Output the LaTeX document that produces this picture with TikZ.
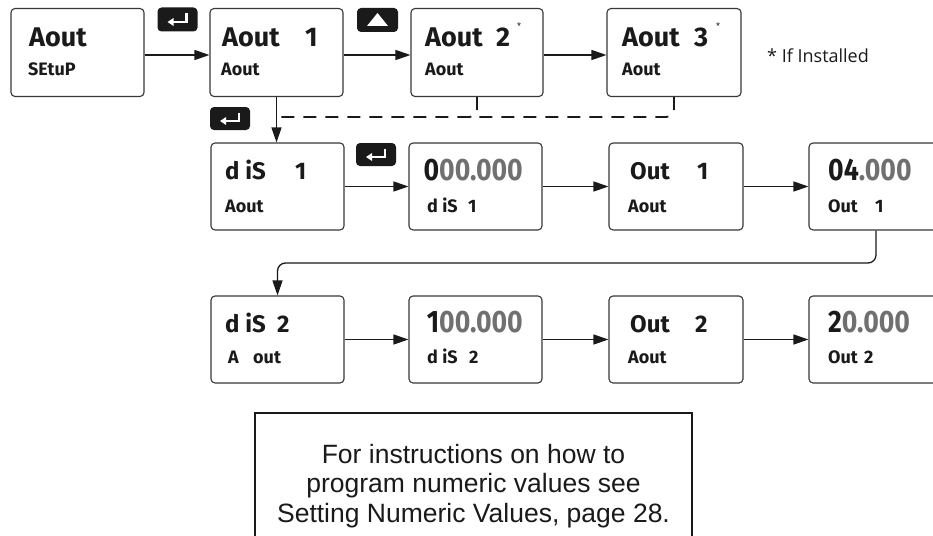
\documentclass[tikz,border=0pt]{standalone}
\usepackage{fontspec}
\usepackage{graphicx}
\setmainfont{Liberation Sans}
\newfontfamily\lcd{Fira Sans}
\newfontfamily\opensans{Open Sans}
\usetikzlibrary{arrows.meta,calc}
\definecolor{dk}{HTML}{1A1A1A}
\definecolor{gy}{HTML}{707070}
\begin{document}
\begin{tikzpicture}[x=1pt,y=-1pt,
  lcdbox/.style={draw=black!78, line width=1.1pt, rounded corners=4pt, minimum width=133pt, minimum height=88pt, inner sep=0pt},
  keybox/.style={fill=dk, rounded corners=4pt, minimum width=40pt, minimum height=24pt, inner sep=0pt},
  conn/.style={line width=1.3pt, draw=dk, -{Triangle[length=15pt,width=10pt]}},
  dashline/.style={line width=1.8pt, draw=dk, dash pattern=on 13pt off 9pt, rounded corners=8pt},
  lcdA/.style={font=\lcd\bfseries\fontsize{27}{27}\selectfont, text=dk, inner sep=0pt, anchor=base west},
  lcdB/.style={font=\lcd\bfseries\fontsize{24}{24}\selectfont, text=dk, inner sep=0pt, anchor=base west},
  lcdS/.style={font=\lcd\bfseries\fontsize{18}{18}\selectfont, text=dk, inner sep=0pt, anchor=base west},
  lcdN/.style={font=\lcd\bfseries\fontsize{31}{31}\selectfont, inner sep=0pt, anchor=base west},
  star/.style={font=\lcd\fontsize{9}{9}\selectfont, text=dk, inner sep=0pt},
  note/.style={font=\fontsize{26.5}{26.5}\selectfont, text=dk, inner sep=0pt, anchor=base}
]
\clip (0,0) rectangle (933,535);
\fill[white] (0,0) rectangle (933,535);

% boxes
\node[lcdbox] (A) at (77.5,52.5) {};
\node[lcdbox] (B) at (276.5,52.5) {};
\node[lcdbox, minimum width=132pt] (C) at (477,52.5) {};
\node[lcdbox, minimum width=134pt] (D) at (674,52.5) {};
\node[lcdbox, minimum height=87pt] (E) at (277.5,186.5) {};
\node[lcdbox, minimum height=87pt] (F) at (475.5,186.5) {};
\node[lcdbox, minimum height=87pt, minimum width=134pt] (G) at (676,186.5) {};
\node[lcdbox, minimum height=87pt, minimum width=134pt] (H) at (876,186.5) {};
\node[lcdbox, minimum height=87pt] (I) at (277.5,339.5) {};
\node[lcdbox, minimum height=87pt] (J) at (475.5,339.5) {};
\node[lcdbox, minimum height=87pt, minimum width=134pt] (K) at (676,339.5) {};
\node[lcdbox, minimum height=87pt, minimum width=134pt] (L) at (876,339.5) {};

% keys
\node[keybox] (k1) at (177.5,19.5) {};
\node[keybox, minimum width=41pt] (k2) at (377.5,20) {};
\node[keybox, minimum height=23pt] (k3) at (230,118.5) {};
\node[keybox, minimum height=23pt] (k4) at (376,154.5) {};
\foreach \k in {k1,k3,k4}{
  \draw[white, line width=2.2pt, -{Triangle[length=6pt,width=7.5pt]}]
    ([shift={(9,-6)}]\k.center) -- ([shift={(9,2.5)}]\k.center) -- ([shift={(-10,2.5)}]\k.center);
}
\fill[white] ([shift={(0,-7)}]k2.center) -- ([shift={(10.5,6)}]k2.center) -- ([shift={(-10.5,6)}]k2.center) -- cycle;

% row 1 texts
\node[lcdA] (tA1) at (29,47) {Aout};
\node[lcdS] (tA2) at (28,75) {SEtuP};
\node[lcdA] (tB1) at (222,47) {Aout};
\node[lcdA] (tB1n) at (305,47) {1};
\node[lcdS] (tB2) at (221,75) {Aout};
\node[lcdA] (tC1) at (425,47) {Aout};
\node[lcdA] (tC1n) at (496,47) {2};
\node[star] (tC1s) at (519,26) {*};
\node[lcdS] (tC2) at (425,75) {Aout};
\node[lcdA] (tD1) at (622,47) {Aout};
\node[lcdA] (tD1n) at (694,47) {3};
\node[star] (tD1s) at (718,26) {*};
\node[lcdS] (tD2) at (622,75) {Aout};
\node[font=\opensans\fontsize{18}{18}\selectfont, text=dk, inner sep=0pt, anchor=base west] (inst) at (767,63) {* If Installed};

% row 2 texts
\node[lcdB] (tE1) at (225,179) {d iS};
\node[lcdB] (tE1n) at (295,179) {1};
\node[lcdS] (tE2) at (225,212) {Aout};
\node[lcdN, anchor=base east] (tF1) at (523,180) {\scalebox{0.86}[1]{\textcolor{dk}{0}\textcolor{gy}{00.000}}};
\node[lcdS] (tF2) at (427,212) {d iS};
\node[lcdS] (tF2n) at (468,212) {1};
\node[lcdB] (tG1) at (630,179) {Out};
\node[lcdB] (tG1n) at (697,179) {1};
\node[lcdS] (tG2) at (628,212) {Aout};
\node[lcdN] (tH1) at (828,180) {\scalebox{0.86}[1]{\textcolor{dk}{04}\textcolor{gy}{.000}}};
\node[lcdS] (tH2) at (828,212) {Out};
\node[lcdS] (tH2n) at (875,212) {1};

% row 3 texts
\node[lcdB] (tI1) at (225,332) {d iS};
\node[lcdB] (tI1n) at (277,332) {2};
\node[lcdS] (tI2) at (228,363) {A};
\node[lcdS] (tI2b) at (253,363) {out};
\node[lcdN, anchor=base east] (tJ1) at (523,332) {\scalebox{0.86}[1]{\textcolor{dk}{1}\textcolor{gy}{00.000}}};
\node[lcdS] (tJ2) at (427,363) {d iS};
\node[lcdS] (tJ2n) at (469,363) {2};
\node[lcdB] (tK1) at (630,332) {Out};
\node[lcdB] (tK1n) at (695,332) {2};
\node[lcdS] (tK2) at (628,363) {Aout};
\node[lcdN] (tL1) at (828,332) {\scalebox{0.86}[1]{\textcolor{dk}{2}\textcolor{gy}{0.000}}};
\node[lcdS] (tL2) at (828,363) {Out};
\node[lcdS] (tL2n) at (864,363) {2};

% connectors
\draw[conn] ([yshift=-2.5pt]A.east) -- ([yshift=-2.5pt]B.west);
\draw[conn] ([yshift=-2.5pt]B.east) -- ([yshift=-2.5pt]C.west);
\draw[conn] ([yshift=-2.5pt]C.east) -- ([yshift=-2.5pt]D.west);
\draw[conn] (B.south) -- (B.south |- E.north);
\draw[dashline] (D.south) -- (D.south |- 0,117) -- (B.south |- 0,117);
\draw[dashline] (C.south) -- (C.south |- 0,117) -- (457,117);
\draw[conn] (E.east) -- (F.west);
\draw[conn] (F.east) -- (G.west);
\draw[conn] (G.east) -- (H.west);
\draw[conn, rounded corners=8pt] (H.south) -- (H.south |- 0,263) -- (I.north |- 0,263) -- (I.north);
\draw[conn] (I.east) -- (J.west);
\draw[conn] (J.east) -- (K.west);
\draw[conn] (K.east) -- (L.west);

% note box
\draw[line width=1.3pt, dk] (255,545) -- (255,413) -- (692,413) -- (692,545);
\node[note] (n1) at (473.5,463) {For instructions on how to};
\node[note] (n2) at (473.5,492.5) {program numeric values see};
\node[note] (n3) at (473.5,522) {Setting Numeric Values, page 28.};
\end{tikzpicture}
\end{document}
